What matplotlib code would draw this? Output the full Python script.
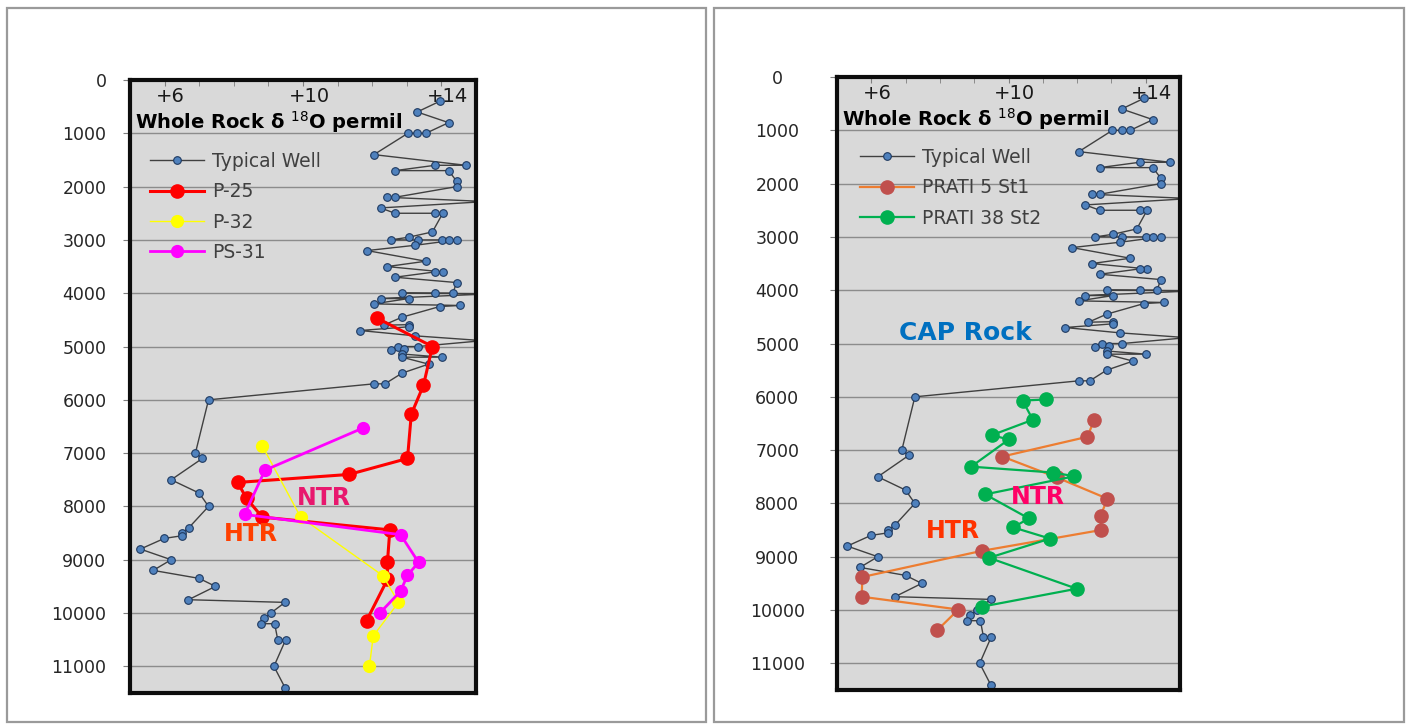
import matplotlib
matplotlib.use("Agg")
import matplotlib.pyplot as plt
import matplotlib.transforms as mtransforms
from matplotlib.patches import Rectangle

# --- data: depth (ft) and whole rock d18O (permil) ---
typical_depth = [400, 600, 800, 1000, 1000, 1000, 1400, 1600, 1600, 1700, 1700, 1900, 2000,
                 2200, 2200, 2280, 2400, 2500, 2500, 2500, 2850, 2950, 3000, 3000, 3000, 3000,
                 3000, 3100, 3200, 3400, 3500, 3600, 3600, 3700, 3800, 4000, 4000, 4000, 4010,
                 4100, 4100, 4200, 4230, 4250, 4450, 4600, 4590, 4630, 4700, 4800, 4890, 5000,
                 5000, 5060, 5040, 5140, 5200, 5200, 5330, 5500, 5700, 5700, 6000, 7000, 7100,
                 7500, 7750, 8000, 8400, 8500, 8550, 8600, 8800, 9000, 9200, 9350, 9500, 9750,
                 9800, 10000, 10100, 10200, 10200, 10500, 10500, 11000, 11400]
typical_o18 = [13.95, 13.30, 14.21, 13.55, 13.30, 13.03, 12.05, 14.71, 13.82, 12.66, 14.21, 14.44, 14.44,
               12.66, 12.43, 15.30, 12.24, 12.66, 13.82, 14.04, 13.74, 13.05, 12.53, 13.32, 14.01, 14.22,
               14.44, 13.25, 11.85, 13.55, 12.43, 14.04, 13.82, 12.66, 14.44, 14.33, 13.82, 12.86, 15.50,
               12.24, 13.05, 12.05, 14.54, 13.95, 12.86, 12.33, 13.05, 13.05, 11.65, 13.25, 15.20, 13.32,
               12.74, 12.53, 12.93, 12.86, 14.02, 12.86, 13.63, 12.86, 12.37, 12.05, 7.27, 6.89, 7.09,
               6.19, 7.00, 7.27, 6.70, 6.50, 6.50, 5.99, 5.30, 6.19, 5.67, 7.00, 7.47, 6.69,
               9.48, 9.07, 8.87, 8.79, 9.18, 9.27, 9.50, 9.16, 9.48]

p25_depth = [4470, 5000, 5730, 6270, 7100, 7400, 7550, 7850, 8200, 8440, 9050, 9370, 10140]
p25_o18 = [12.15, 13.74, 13.48, 13.13, 13.02, 11.33, 8.11, 8.37, 8.82, 12.51, 12.44, 12.44, 11.84]

p32_depth = [6860, 8200, 9300, 9800, 10430, 11000]
p32_o18 = [8.82, 9.93, 12.31, 12.76, 12.03, 11.92]

ps31_depth = [6530, 7320, 8150, 8530, 9050, 9290, 9590, 10000]
ps31_o18 = [11.73, 8.90, 8.31, 12.82, 13.34, 13.02, 12.82, 12.22]

prati5_depth = [6430, 6750, 7120, 7510, 7910, 8230, 8500, 8890, 9380, 9750, 9990, 10380]
prati5_o18 = [12.50, 12.30, 9.82, 11.40, 12.88, 12.69, 12.69, 9.22, 5.74, 5.72, 8.54, 7.92]

prati38_depth = [6050, 6070, 6430, 6720, 6800, 7310, 7420, 7490, 7830, 8280, 8450, 8660, 9020, 9600, 9935]
prati38_o18 = [11.10, 10.41, 10.71, 9.51, 10.01, 8.91, 11.29, 11.92, 9.32, 10.59, 10.14, 11.21, 9.43, 11.99, 9.24]

depth_ticks = list(range(0, 12000, 1000))
o18_major = [6, 10, 14]
o18_labels = ["+6", "+10", "+14"]

W, H = 1411, 726
fig = plt.figure(figsize=(W / 100, H / 100), dpi=100)

# panel frames
for x0, x1 in [(7, 706), (714, 1404)]:
    fig.patches.append(Rectangle((x0 / W, 1 - 722 / H), (x1 - x0) / W, (722 - 8) / H,
                                 transform=fig.transFigure, fill=False,
                                 edgecolor="#9a9a9a", linewidth=1.6))


def make_axes(rect, label_ha="right", label_pad=12):
    ax = fig.add_axes(rect)
    ax.set_facecolor("#d9d9d9")
    ax.set_xlim(5, 15)
    ax.set_ylim(11500, 0)
    ax.set_yticks(depth_ticks)
    ax.set_yticklabels([str(d) for d in depth_ticks], fontsize=12.5, family="DejaVu Sans",
                       color="#262626", ha=label_ha)
    ax.tick_params(axis="y", direction="out", length=5, pad=label_pad, color="#7f7f7f")
    ax.grid(axis="y", color="#8c8c8c", linewidth=1.0)
    ax.set_axisbelow(True)
    ax.xaxis.tick_top()
    ax.set_xticks(range(5, 16), minor=True)
    ax.set_xticks(o18_major)
    ax.set_xticklabels(o18_labels, fontsize=14, family="DejaVu Sans", color="#1a1a1a")
    ax.tick_params(axis="x", which="both", direction="in", length=4, color="#7f7f7f", pad=-19)
    off = mtransforms.ScaledTranslation(6 / 100, 0, fig.dpi_scale_trans)
    for lab in ax.get_xticklabels():
        lab.set_transform(lab.get_transform() + off)
    for s in ax.spines.values():
        s.set_linewidth(3)
        s.set_color("#0d0d0d")
    ax.text(0.015, 0.932, r"Whole Rock δ $^{18}$O permil", transform=ax.transAxes,
            fontsize=14, fontweight="bold", family="DejaVu Sans", va="center", ha="left")
    return ax


def typical(ax):
    ax.plot(typical_o18, typical_depth, color="#404040", linewidth=1.0, marker="o",
            markersize=5.5, markerfacecolor="#4f81bd", markeredgecolor="#1f3a60",
            markeredgewidth=0.8, label="Typical Well")


legend_kw = dict(loc="upper left", frameon=False, borderpad=0, borderaxespad=0,
                 handlelength=2.9, handletextpad=0.43, labelspacing=0.6,
                 prop={"family": "DejaVu Sans", "size": 13.5}, labelcolor="#404040")

# ---- left panel ----
ax1 = make_axes([130 / W, 1 - 693 / H, 346 / W, 613 / H])
typical(ax1)
ax1.plot(p25_o18, p25_depth, color="#ff0000", linewidth=2.2, marker="o", markersize=9.5, label="P-25")
ax1.plot(p32_o18, p32_depth, color="#ffff00", linewidth=1.0, marker="o", markersize=8.5, label="P-32")
ax1.plot(ps31_o18, ps31_depth, color="#ff00ff", linewidth=2.0, marker="o", markersize=8.5, label="PS-31")
ax1.text(10.6, 7850, "NTR", fontsize=17, fontweight="bold", family="DejaVu Sans",
         color="#e8186e", ha="center", va="center")
ax1.text(8.5, 8510, "HTR", fontsize=17, fontweight="bold", family="DejaVu Sans",
         color="#ff4000", ha="center", va="center")
ax1.legend(bbox_to_anchor=(20 / 346, 1 - 72 / 613), **legend_kw)

# ---- right panel ----
ax2 = make_axes([837 / W, 1 - 690 / H, 343 / W, 613 / H], label_ha="center", label_pad=38)
typical(ax2)
ax2.plot(prati5_o18, prati5_depth, color="#ed7d31", linewidth=1.6, marker="o", markersize=9.5,
         markerfacecolor="#c0504d", markeredgecolor="#c0504d", label="PRATI 5 St1")
ax2.plot(prati38_o18, prati38_depth, color="#00b050", linewidth=1.6, marker="o", markersize=9.5,
         label="PRATI 38 St2")
ax2.text(8.73, 4800, "CAP Rock", fontsize=18, fontweight="bold", family="DejaVu Sans",
         color="#0070c0", ha="center", va="center")
ax2.text(10.86, 7870, "NTR", fontsize=17, fontweight="bold", family="DejaVu Sans",
         color="#ff0066", ha="center", va="center")
ax2.text(8.37, 8510, "HTR", fontsize=17, fontweight="bold", family="DejaVu Sans",
         color="#ff3300", ha="center", va="center")
ax2.legend(bbox_to_anchor=(23 / 343, 1 - 71 / 613), **legend_kw)

fig.savefig("out.png", dpi=100)
